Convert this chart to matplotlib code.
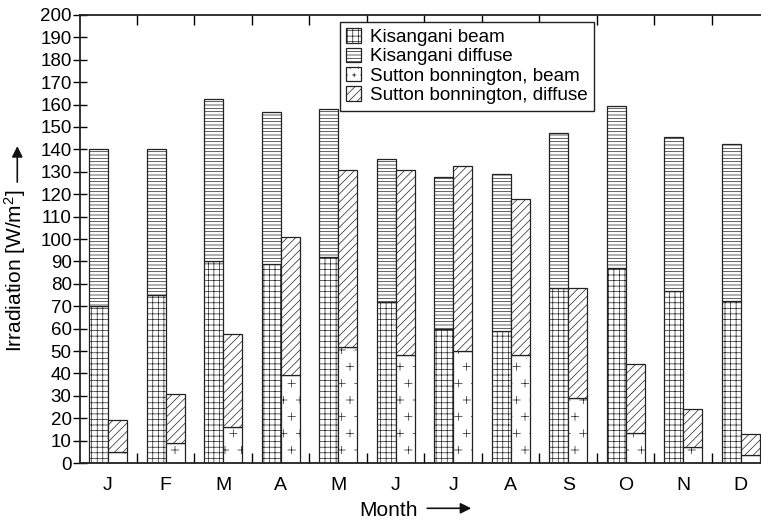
import numpy as np
import matplotlib
matplotlib.use("Agg")
import matplotlib.pyplot as plt
import matplotlib.hatch as mhatch
import matplotlib.ticker as mticker
import matplotlib.patches as mpatches
from matplotlib.path import Path

# ---------------- data ----------------
months = ["J", "F", "M", "A", "M", "J", "J", "A", "S", "O", "N", "D"]
kis_beam = [70, 75, 90, 89, 92, 72, 60, 59, 78, 87, 77, 72.5]
kis_diffuse = [70, 65, 72.5, 67.5, 66, 63.5, 67.5, 70, 69.5, 72.5, 68.5, 70]
sut_beam = [5, 9, 16, 39.5, 52, 48, 50, 48, 29, 13.5, 7, 3.5]
sut_diffuse = [14, 22, 41.5, 61.5, 79, 83, 82.5, 70, 49, 30.5, 17, 9.5]
series_labels = ["Kisangani beam", "Kisangani diffuse",
                 "Sutton bonnington, beam", "Sutton bonnington, diffuse"]
yticks = list(range(0, 201, 10))


# sparse "+" hatch: replace the '*' star pattern with plus signs
class PlusHatch(mhatch.Shapes):
    filled = True
    size = 0.22

    def __init__(self, hatch, density):
        self.num_rows = int(hatch.count('*') * density)
        self.shape_vertices = np.array([[-1, 0], [1, 0], [0, -1], [0, 1]], float)
        self.shape_codes = np.array([Path.MOVETO, Path.LINETO,
                                     Path.MOVETO, Path.LINETO],
                                    dtype=Path.code_type)
        super().__init__(hatch, density)


mhatch._hatch_types = [PlusHatch if t is mhatch.Stars else t
                       for t in mhatch._hatch_types]

plt.rcParams['font.family'] = ['Liberation Sans', 'DejaVu Sans']
plt.rcParams['mathtext.fontset'] = 'custom'
plt.rcParams['mathtext.rm'] = 'Liberation Sans'
plt.rcParams['mathtext.it'] = 'Liberation Sans:italic'
plt.rcParams['mathtext.bf'] = 'Liberation Sans:bold'
plt.rcParams['hatch.linewidth'] = 0.5
plt.rcParams['hatch.color'] = '#222222'

fig = plt.figure(figsize=(7.61, 5.21), dpi=100)
ax = fig.add_axes([80 / 761, (521 - 463) / 521, 682 / 761, 448 / 521])

x = np.arange(len(months))
w = 0.33
ec = '#222222'
lw = 0.9
hatches = ['+++', '-----', '*', '////']

ax.bar(x - w, kis_beam, w, align='edge', color='white', edgecolor=ec,
       linewidth=lw, hatch=hatches[0])
ax.bar(x - w, kis_diffuse, w, bottom=kis_beam, align='edge', color='white',
       edgecolor=ec, linewidth=lw, hatch=hatches[1])
ax.bar(x, sut_beam, w, align='edge', color='white', edgecolor=ec,
       linewidth=lw, hatch=hatches[2])
ax.bar(x, sut_diffuse, w, bottom=sut_beam, align='edge', color='white',
       edgecolor=ec, linewidth=lw, hatch=hatches[3])

ax.set_xlim(-0.487, 11.37)
ax.set_ylim(0, 200)

# month boundaries as major ticks, labels on minor ticks at centres
ax.set_xticks(x[:-1] + 0.5)
ax.set_xticklabels([])
ax.set_xticks(x, minor=True)
ax.set_xticklabels(months, minor=True, fontsize=14)
ax.tick_params(axis='x', which='minor', length=0, pad=10)
ax.tick_params(axis='x', which='major', direction='in', length=7, width=1,
               top=True, bottom=True)

ax.set_yticks(yticks)
ax.set_yticklabels([str(v) for v in yticks], fontsize=13.5)
ax.tick_params(axis='y', which='major', direction='inout', length=10, width=1,
               left=True, right=False, pad=1)
ax.yaxis.set_minor_locator(mticker.FixedLocator(yticks))
ax.tick_params(axis='y', which='minor', direction='in', length=5, width=1,
               left=False, right=True)

for s in ax.spines.values():
    s.set_linewidth(1.3)
    s.set_color('#222222')

ax.set_xlabel("Month", fontsize=15)
ax.set_ylabel("Irradiation [W/m$^\\mathrm{2}$]", fontsize=15)
ax.xaxis.set_label_coords(0.453, -0.085)
ax.yaxis.set_label_coords(-0.076, 0.43)

# legend proxies (denser plus pattern so the small swatch shows a "+")
leg_hatches = ['+++', '-----', '**', '////']
handles = [mpatches.Patch(facecolor='white', edgecolor=ec, linewidth=lw,
                          hatch=h, label=l)
           for h, l in zip(leg_hatches, series_labels)]
leg = ax.legend(handles=handles, loc='upper left',
                bbox_to_anchor=(0.381, 0.985),
                borderaxespad=0, fontsize=13.6, frameon=True, fancybox=False,
                framealpha=1, edgecolor='#222222', handlelength=0.75,
                handleheight=0.8, handletextpad=0.5, labelspacing=0.08,
                borderpad=0.35)
leg.get_frame().set_linewidth(1.0)

# arrows after the axis labels
fig.canvas.draw()
r = fig.canvas.get_renderer()
xb = ax.xaxis.label.get_window_extent(r)
yb = ax.yaxis.label.get_window_extent(r)
ay = xb.y0 + 0.62 * (xb.y1 - xb.y0)
ax.annotate('', xy=(xb.x1 + 53, ay), xytext=(xb.x1 + 9, ay),
            xycoords='figure pixels', textcoords='figure pixels',
            arrowprops=dict(arrowstyle='-|>', lw=1.2, color='#111111',
                            mutation_scale=16, shrinkA=0, shrinkB=0))
axx = yb.x0 + 0.58 * (yb.x1 - yb.x0)
ax.annotate('', xy=(axx, yb.y1 + 43), xytext=(axx, yb.y1 + 7),
            xycoords='figure pixels', textcoords='figure pixels',
            arrowprops=dict(arrowstyle='-|>', lw=1.2, color='#111111',
                            mutation_scale=16, shrinkA=0, shrinkB=0))

fig.savefig("out.png", dpi=100)
